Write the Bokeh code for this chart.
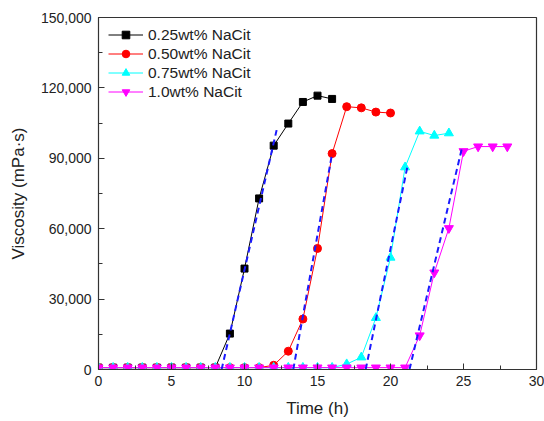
from bokeh.plotting import figure
from bokeh.models import NumeralTickFormatter, FixedTicker, Legend, LegendItem
from bokeh.embed import file_html
from bokeh.resources import INLINE

# ---- data ----
t1 = list(range(0, 17))
v1 = [800, 800, 800, 800, 800, 800, 800, 800, 800, 15300, 43000, 72900, 95400, 104800, 114000, 116700, 115300]
t2 = list(range(0, 21))
v2 = [800] * 12 + [1800, 7800, 21500, 51600, 92000, 112000, 111500, 109700, 109300]
t3 = list(range(0, 25))
v3 = [800] * 17 + [2300, 5200, 22000, 47700, 86200, 101500, 99700, 100700]
t4 = list(range(0, 29))
v4 = [800] * 22 + [14500, 41300, 60200, 93000, 95000, 95000, 95000]

labels = ["0.25wt% NaCit", "0.50wt% NaCit", "0.75wt% NaCit", "1.0wt% NaCit"]
colors = ["#000000", "#FF0000", "#00FFFF", "#FF00FF"]
markers = ["square", "circle", "triangle", "inverted_triangle"]
msizes = [7, 8, 9, 9]

# linear fits (blue dashed) : start/end times and values
fit_t0 = [8.43, 13.34, 18.3, 21.3]
fit_t1 = [12.2, 16.0, 21.2, 24.9]
fit_v0 = [0, 0, 0, 0]
fit_v1 = [102000, 92000, 87700, 94500]

p = figure(width=544, height=421, output_backend="svg", toolbar_location=None,
           x_range=(0, 30), y_range=(0, 150000),
           min_border_left=98, min_border_right=8, min_border_top=17, min_border_bottom=52)
p.grid.visible = False
p.outline_line_color = "#333333"
p.outline_line_width = 1.2

font = "Liberation Sans"
for ax in (p.xaxis[0], p.yaxis[0]):
    ax.major_label_text_font = font
    ax.major_label_text_font_size = "14px"
    ax.major_label_text_color = "#222222"
    ax.axis_label_text_font = font
    ax.axis_label_text_font_size = "17px"
    ax.axis_label_text_font_style = "normal"
    ax.axis_label_text_color = "#222222"
    ax.major_tick_in = 6
    ax.major_tick_out = 0
    ax.minor_tick_in = 4
    ax.minor_tick_out = 0
    ax.axis_line_color = "#333333"
    ax.major_tick_line_color = "#333333"
    ax.minor_tick_line_color = "#333333"

p.xaxis.axis_label = "Time (h)"
p.yaxis.axis_label = "Viscosity (mPa·s)"
p.xaxis.ticker = FixedTicker(ticks=[0, 5, 10, 15, 20, 25, 30],
                             minor_ticks=[2.5, 7.5, 12.5, 17.5, 22.5, 27.5])
p.yaxis.ticker = FixedTicker(ticks=[0, 30000, 60000, 90000, 120000, 150000],
                             minor_ticks=[15000, 45000, 75000, 105000, 135000])
p.yaxis.formatter = NumeralTickFormatter(format="0,0")
p.xaxis.major_label_standoff = 6
p.yaxis.major_label_standoff = 7
p.xaxis.axis_label_standoff = 10
p.yaxis.axis_label_standoff = 10

series = [(t1, v1), (t2, v2), (t3, v3), (t4, v4)]
items = []
for i, (t, v) in enumerate(series):
    ln = p.line(t, v, line_color=colors[i], line_width=1)
    sc = p.scatter(t, v, marker=markers[i], size=msizes[i],
                   fill_color=colors[i], line_color=colors[i])
    items.append(LegendItem(label=labels[i], renderers=[ln, sc]))

for i in range(4):
    p.line([fit_t0[i], fit_t1[i]], [fit_v0[i], fit_v1[i]],
           line_color="#1a1aff", line_width=2, line_dash="6 4")

legend = Legend(items=items, location=(10, 268))
legend.label_text_font = font
legend.label_text_font_size = "15.5px"
legend.label_text_color = "#222222"
legend.glyph_width = 35
legend.glyph_height = 19
legend.label_height = 19
legend.spacing = 0
legend.label_standoff = 5
legend.padding = 0
legend.margin = 0
legend.border_line_color = None
legend.background_fill_alpha = 0
p.add_layout(legend, "center")

open("out.html", "w").write(file_html(p, INLINE))
